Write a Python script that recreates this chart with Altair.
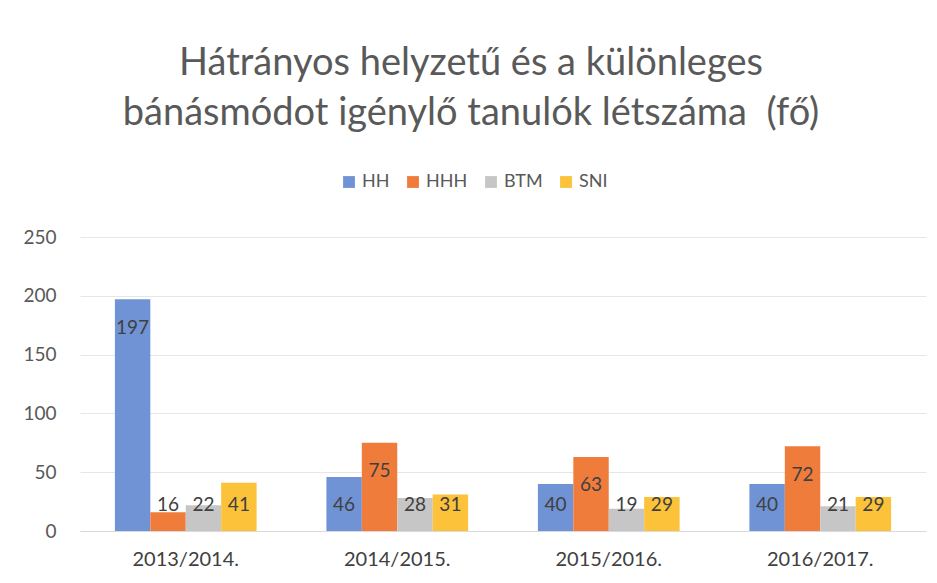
import altair as alt
import pandas as pd

years = ["2013/2014.", "2014/2015.", "2015/2016.", "2016/2017."]
series = ["HH", "HHH", "BTM", "SNI"]
hh = [197, 46, 40, 40]
hhh = [16, 75, 63, 72]
btm = [22, 28, 19, 21]
sni = [41, 31, 29, 29]
colors = ["#7093D6", "#F07C3C", "#C6C6C6", "#FBC23A"]

rows = []
for i, y in enumerate(years):
    for s, vals in zip(series, [hh, hhh, btm, sni]):
        rows.append({"year": y, "series": s, "value": vals[i]})
df = pd.DataFrame(rows)

FONT = "Lato"
yscale = alt.Scale(domain=[0, 250], nice=False)

base = alt.Chart(df).encode(
    x=alt.X("year:N", sort=years,
            scale=alt.Scale(paddingInner=0.33, paddingOuter=0.165),
            axis=alt.Axis(title=None, labelAngle=0, labelFontSize=20, labelColor="#404040",
                          labelFont=FONT, ticks=False, domainColor="#D9D9D9",
                          labelPadding=18)),
    xOffset=alt.XOffset("series:N", sort=series),
)

bars = base.mark_bar().encode(
    y=alt.Y("value:Q", scale=yscale,
            axis=alt.Axis(title=None, values=[0, 50, 100, 150, 200, 250], labelFontSize=19,
                          labelColor="#595959", labelFont=FONT, ticks=False, domain=False,
                          gridColor="#E6E6E6", labelPadding=24)),
    color=alt.Color("series:N", sort=series,
                    scale=alt.Scale(domain=series, range=colors),
                    legend=alt.Legend(title=None, orient="none", direction="horizontal",
                                      legendX=260, legendY=-64, symbolType="square",
                                      symbolSize=140, labelFontSize=18, labelColor="#595959",
                                      labelFont=FONT, columnPadding=14, labelOffset=4)),
)

labels = base.transform_calculate(
    ly="max(datum.value - 24, 22)"
).mark_text(fontSize=19, font=FONT, color="#404040", baseline="middle").encode(
    y=alt.Y("ly:Q", scale=yscale),
    text=alt.Text("value:Q"),
)

chart = alt.layer(bars, labels).properties(
    width=846, height=294,
    title=alt.TitleParams(
        text=["Hátrányos helyzetű és a különleges", "bánásmódot igénylő tanulók létszáma \u00a0(fő)"],
        fontSize=38, font=FONT, fontWeight="normal", color="#595959",
        lineHeight=50, anchor="middle", dx=-32, offset=40,
    ),
    autosize=alt.AutoSizeParams(type="none"),
    padding={"left": 80, "top": 237, "right": 11, "bottom": 52},
).configure_view(stroke=None)

chart.save("out.html", embed_options={"renderer": "svg", "actions": False})
